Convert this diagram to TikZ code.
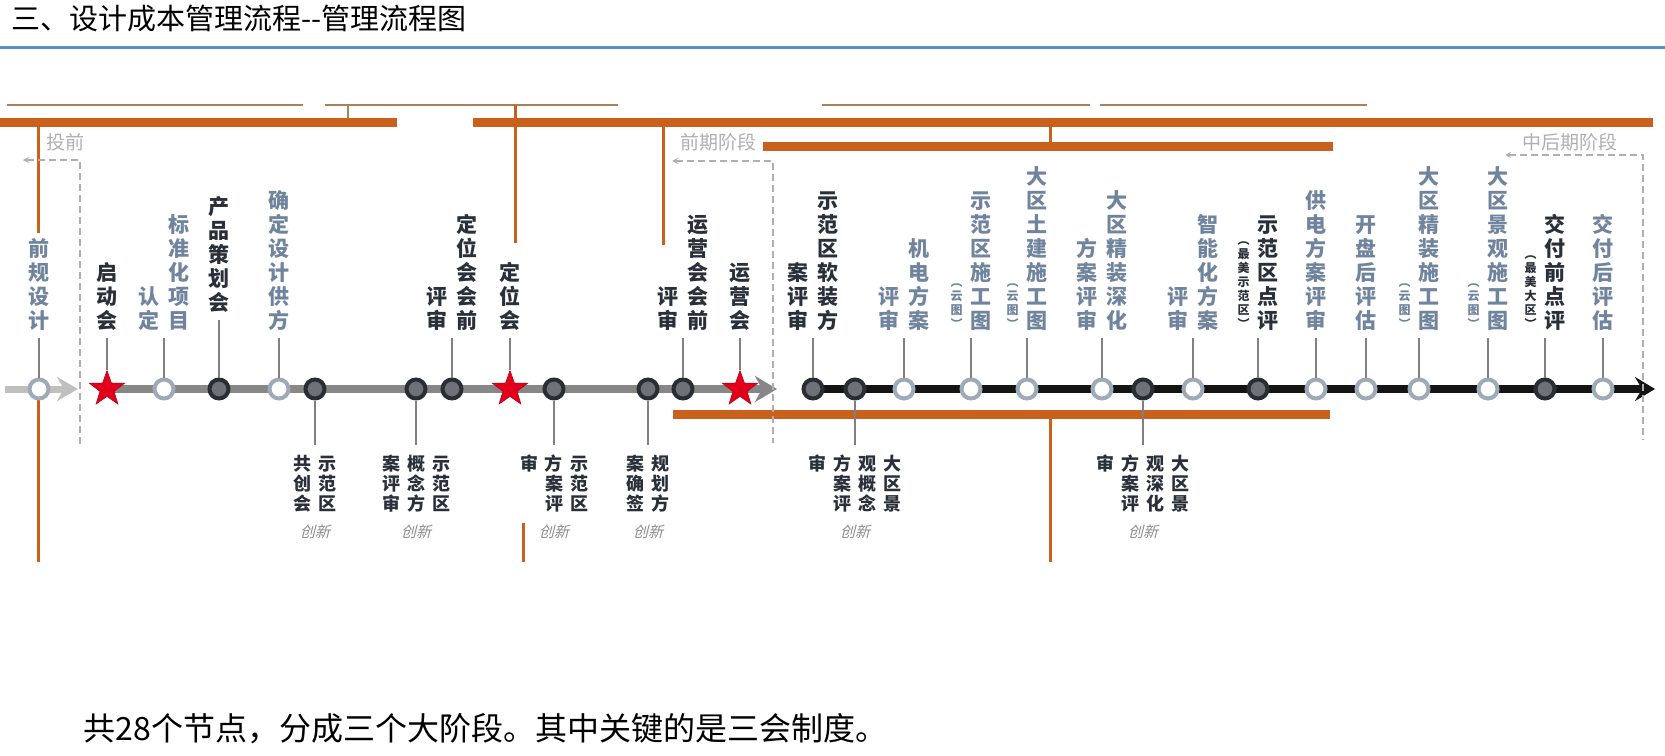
\documentclass[tikz,border=0pt]{standalone}
\usepackage{fontspec}
\setmainfont{Noto Sans CJK SC}
\newfontfamily\slantfont{Noto Sans CJK SC}[FakeSlant=0.25]
\usetikzlibrary{positioning,shapes.geometric,arrows.meta,backgrounds}

\definecolor{orng}{RGB}{201,96,28}
\definecolor{tanline}{RGB}{170,128,92}
\definecolor{ruleblue}{RGB}{91,143,199}
\definecolor{darktxt}{RGB}{42,48,58}
\definecolor{litetxt}{RGB}{112,132,158}
\definecolor{ringlite}{RGB}{158,170,184}
\definecolor{ringdark}{RGB}{42,46,52}
\definecolor{fillgray}{RGB}{110,114,120}
\definecolor{phasegray}{RGB}{175,175,175}
\definecolor{starred}{RGB}{226,0,26}

\makeatletter
\newcommand{\vcol}[1]{\vbox{\@tfor\vc@ch:=#1\do{\hbox to 1em{\hss\vc@ch\hss}}}}
\newcommand{\vcolt}[1]{\vtop{\@tfor\vc@ch:=#1\do{\hbox to 1em{\hss\vc@ch\hss}}}}
\newcommand{\vsmall}[1]{{\fontsize{12}{14}\selectfont\vcol{#1}}}
\makeatother

\begin{document}
\begin{tikzpicture}[x=1pt,y=-1pt,node distance=46.5pt,
    hollow/.style={circle,draw=ringlite,fill=white,line width=4pt,minimum size=19pt,inner sep=0pt},
    dark/.style={circle,draw=ringdark,fill=fillgray,line width=4pt,minimum size=19pt,inner sep=0pt},
    meet/.style={star,star points=5,star point ratio=2.5,fill=starred,draw=starred!80!black,line width=0.6pt,minimum size=37pt,inner sep=0pt},
    toplab/.style={inner sep=0pt,font=\fontsize{21}{24}\selectfont\bfseries},
    botlab/.style={inner sep=0pt,text=darktxt,font=\fontsize{18}{20}\selectfont\bfseries},
    lite/.style={text=litetxt},
    deep/.style={text=darktxt},
    conn/.style={draw=black!50,line width=1.3pt,shorten <=7pt},
    conb/.style={draw=black!50,line width=1.3pt,shorten >=10pt},
    inno/.style={inner sep=0pt,text=black!45,font=\slantfont\fontsize{15}{15}\selectfont},
    bar/.style={orng,line width=9pt},
    hairbar/.style={tanline,line width=2pt},
    stem/.style={orng,line width=3pt},
    phaselab/.style={text=phasegray,font=\fontsize{19}{19}\selectfont},
    preaxis/.style={black!25,line width=7pt,-{Stealth[length=21pt,width=24pt,inset=7pt]}},
    midaxis/.style={black!47,line width=8pt,-{Stealth[length=22pt,width=26pt,inset=7pt]}},
    lateaxis/.style={black!92,line width=8pt,-{Stealth[length=20pt,width=24pt,inset=7pt]}}]
    \tikzstyle{phase}=[phasegray,dashed,dash pattern=on 7pt off 4pt,line width=1.5pt,{Stealth[length=6pt,width=6pt]}-]
    \useasboundingbox (0,0) rectangle (1665,755);

    \node[anchor=west,font=\fontsize{29}{29}\selectfont] (title) at (8,19) {三、设计成本管理流程-{}-管理流程图};
    \draw[ruleblue,line width=3pt] (0,47) -- (1665,47);

    \draw[hairbar] (7,105) -- (303,105) (325,105) -- (618,105) (822,105) -- (1090,105) (1100,105) -- (1367,105);
    \draw[hairbar] (348,105) -- (348,122);
    \draw[bar] (0,122) -- (397,122) (473,122) -- (1653,122);
    \draw[bar] (763,146) -- (1333,146);
    \draw[bar] (673,414) -- (1330,414);
    \draw[stem] (38,122) -- (38,233) (38,400) -- (38,562);
    \draw[stem] (515,105) -- (515,243);
    \draw[stem] (663,122) -- (663,245);
    \draw[stem] (1050,122) -- (1050,146) (1050,414) -- (1050,562);
    \draw[stem] (523,523) -- (523,562);

    \draw[phase] (23,160) -- (80,160) -- (80,445);
    \draw[phase] (672,161) -- (773,161) -- (773,443);
    \draw[phase] (1505,155) -- (1643,155) -- (1643,440);
    \node[phaselab] (ph1) at (65,142) {投前};
    \node[phaselab] (ph2) at (718,142) {前期阶段};
    \node[phaselab] (ph3) at (1570,142) {中后期阶段};

    \node[hollow] (n01) at (39,389) {};
    \node[meet]   (n02) at (107,389) {};
    \node[hollow] (n03) at (164,389) {};
    \node[dark]   (n04) at (219,389) {};
    \node[hollow] (n05) at (279,389) {};
    \node[dark]   (n06) at (315,389) {};
    \node[dark]   (n07) at (416,389) {};
    \node[dark]   (n08) at (452,389) {};
    \node[meet]   (n09) at (510,389) {};
    \node[dark]   (n10) at (554,389) {};
    \node[dark]   (n11) at (648,389) {};
    \node[dark]   (n12) at (683,389) {};
    \node[meet]   (n13) at (740,389) {};
    \node[dark]   (n14) at (813,389) {};
    \node[dark]   (n15) at (855,389) {};
    \node[hollow] (n16) at (904,389) {};
    \node[hollow] (n17) at (971,389) {};
    \node[hollow] (n18) at (1027,389) {};
    \node[hollow] (n19) at (1102,389) {};
    \node[dark]   (n20) at (1143,389) {};
    \node[hollow] (n21) at (1193,389) {};
    \node[dark]   (n22) at (1258,389) {};
    \node[hollow] (n23) at (1316,389) {};
    \node[hollow] (n24) at (1366,389) {};
    \node[hollow] (n25) at (1419,389) {};
    \node[hollow] (n26) at (1488,389) {};
    \node[dark]   (n27) at (1545,389) {};
    \node[hollow] (n28) at (1603,389) {};

    \begin{scope}[on background layer]
        \coordinate (preS) at (5,389);
        \coordinate (preE) at (78,389);
        \coordinate (midE) at (777,389);
        \coordinate (lateE) at (1655,389);
        \draw[preaxis] (preS) -- (preE);
        \draw[midaxis] (n02.center) -- (midE);
        \draw[lateaxis] (n14.center) -- (lateE);
    \end{scope}

    \node[toplab,lite,above=of n01]      (t01) {\vcol{前规设计}};
    \node[toplab,deep,above=39pt of n02] (t02) {\vcol{启动会}};
    \node[toplab,lite,above=of n03]      (t03) {\vcol{认定}\hspace{9pt}\vcol{标准化项目}};
    \node[toplab,deep,above=65pt of n04] (t04) {\vcol{产品策划会}};
    \node[toplab,lite,above=of n05]      (t05) {\vcol{确定设计供方}};
    \node[toplab,deep,above=of n08]      (t08) {\vcol{评审}\hspace{9pt}\vcol{定位会会前}};
    \node[toplab,deep,above=39pt of n09] (t09) {\vcol{定位会}};
    \node[toplab,deep,above=of n12]      (t12) {\vcol{评审}\hspace{9pt}\vcol{运营会会前}};
    \node[toplab,deep,above=39pt of n13] (t13) {\vcol{运营会}};
    \node[toplab,deep,above=of n14]      (t14) {\vcol{案评审}\hspace{9pt}\vcol{示范区软装方}};
    \node[toplab,lite,above=of n16]      (t16) {\vcol{评审}\hspace{9pt}\vcol{机电方案}};
    \node[toplab,lite,above=of n17]      (t17) {\vsmall{︵云图︶}\hspace{8pt}\vcol{示范区施工图}};
    \node[toplab,lite,above=of n18]      (t18) {\vsmall{︵云图︶}\hspace{8pt}\vcol{大区土建施工图}};
    \node[toplab,lite,above=of n19]      (t19) {\vcol{方案评审}\hspace{9pt}\vcol{大区精装深化}};
    \node[toplab,lite,above=of n21]      (t21) {\vcol{评审}\hspace{9pt}\vcol{智能化方案}};
    \node[toplab,deep,above=of n22]      (t22) {\vsmall{︵最美示范区︶}\hspace{8pt}\vcol{示范区点评}};
    \node[toplab,lite,above=of n23]      (t23) {\vcol{供电方案评审}};
    \node[toplab,lite,above=of n24]      (t24) {\vcol{开盘后评估}};
    \node[toplab,lite,above=of n25]      (t25) {\vsmall{︵云图︶}\hspace{8pt}\vcol{大区精装施工图}};
    \node[toplab,lite,above=of n26]      (t26) {\vsmall{︵云图︶}\hspace{8pt}\vcol{大区景观施工图}};
    \node[toplab,deep,above=of n27]      (t27) {\vsmall{︵最美大区︶}\hspace{8pt}\vcol{交付前点评}};
    \node[toplab,lite,above=of n28]      (t28) {\vcol{交付后评估}};

    \node[botlab,below=54.5pt of n06] (b06) {\vcolt{共创会}\hspace{7pt}\vcolt{示范区}};
    \node[botlab,below=54.5pt of n07] (b07) {\vcolt{案评审}\hspace{7pt}\vcolt{概念方}\hspace{7pt}\vcolt{示范区}};
    \node[botlab,below=54.5pt of n10] (b10) {\vcolt{审}\hspace{7pt}\vcolt{方案评}\hspace{7pt}\vcolt{示范区}};
    \node[botlab,below=54.5pt of n11] (b11) {\vcolt{案确签}\hspace{7pt}\vcolt{规划方}};
    \node[botlab,below=54.5pt of n15] (b15) {\vcolt{审}\hspace{7pt}\vcolt{方案评}\hspace{7pt}\vcolt{观概念}\hspace{7pt}\vcolt{大区景}};
    \node[botlab,below=54.5pt of n20] (b20) {\vcolt{审}\hspace{7pt}\vcolt{方案评}\hspace{7pt}\vcolt{观深化}\hspace{7pt}\vcolt{大区景}};

    \node[inno,below=12pt of b06] (i06) {创新};
    \node[inno,below=12pt of b07] (i07) {创新};
    \node[inno,below=12pt of b10] (i10) {创新};
    \node[inno,below=12pt of b11] (i11) {创新};
    \node[inno,below=12pt of b15] (i15) {创新};
    \node[inno,below=12pt of b20] (i20) {创新};

    \path[conn] (t01.south -| n01) edge (n01)
                (t02.south -| n02) edge (n02)
                (t03.south -| n03) edge (n03)
                (t04.south -| n04) edge (n04)
                (t05.south -| n05) edge (n05)
                (t08.south -| n08) edge (n08)
                (t09.south -| n09) edge (n09)
                (t12.south -| n12) edge (n12)
                (t13.south -| n13) edge (n13)
                (t14.south -| n14) edge (n14)
                (t16.south -| n16) edge (n16)
                (t17.south -| n17) edge (n17)
                (t18.south -| n18) edge (n18)
                (t19.south -| n19) edge (n19)
                (t21.south -| n21) edge (n21)
                (t22.south -| n22) edge (n22)
                (t23.south -| n23) edge (n23)
                (t24.south -| n24) edge (n24)
                (t25.south -| n25) edge (n25)
                (t26.south -| n26) edge (n26)
                (t27.south -| n27) edge (n27)
                (t28.south -| n28) edge (n28);
    \path[conb] (n06) edge (b06.north -| n06)
                (n07) edge (b07.north -| n07)
                (n10) edge (b10.north -| n10)
                (n11) edge (b11.north -| n11)
                (n15) edge (b15.north -| n15)
                (n20) edge (b20.north -| n20);

    \node[anchor=west,font=\fontsize{32}{32}\selectfont] (note) at (80,729) {共28个节点，分成三个大阶段。其中关键的是三会制度。};
\end{tikzpicture}
\end{document}
